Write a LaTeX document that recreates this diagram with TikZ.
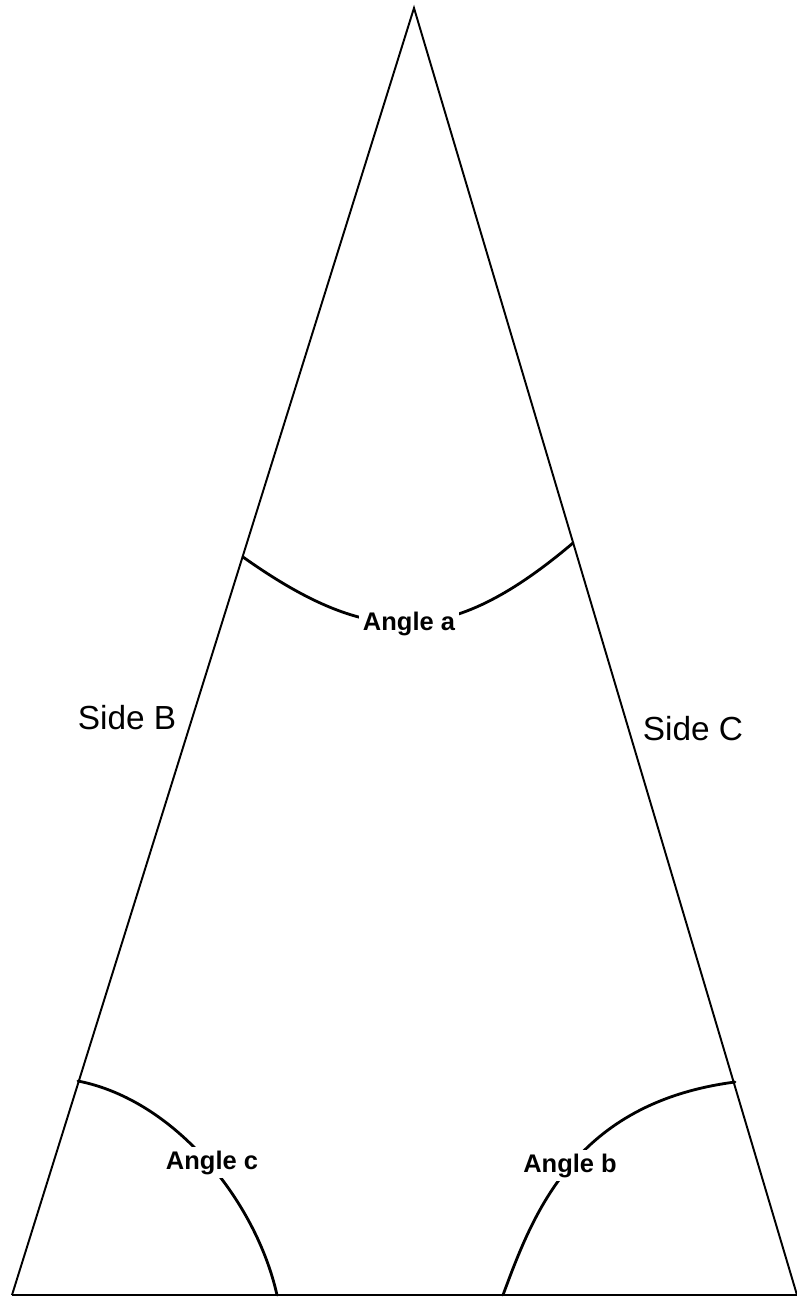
\documentclass[tikz,border=0pt]{standalone}
\usepackage{fontspec}
\newfontfamily\arialfont{Liberation Sans}

\begin{document}
\begin{tikzpicture}[x=0.02cm, y=-0.02cm,
    side/.style={line width=1.1pt},
    anglearc/.style={line width=1.6pt, line cap=round},
    sidelabel/.style={anchor=base, inner sep=0pt, font=\arialfont\fontsize{19}{22}\selectfont},
    anglelabel/.style={anchor=base, fill=white, inner sep=2pt, font=\arialfont\bfseries\fontsize{14.5}{17}\selectfont}]
    \useasboundingbox (0,0) rectangle (796,1303);
    % corners
    \coordinate (apex) at (414,8);
    \coordinate (left) at (12,1295);
    \coordinate (right) at (797,1295);
    \draw[side] (left) -- (apex) -- (right);
    \draw[line width=1.6pt] (left) -- (right);
    % arcs
    \draw[anglearc] (243,557) .. controls (370,647) and (449,648) .. (573,543);
    \draw[anglearc] (78,1081) .. controls (175,1100) and (256,1201) .. (277,1295);
    \draw[anglearc] (503,1295) .. controls (533,1214) and (574,1103) .. (735,1082);
    % labels
    \node[anglelabel] (anglea) at (409,630) {Angle a};
    \node[anglelabel] (anglec) at (212,1169) {Angle c};
    \node[anglelabel] (angleb) at (570,1172) {Angle b};
    \node[sidelabel] (sideb) at (127,729) {Side B};
    \node[sidelabel] (sidec) at (693,740) {Side C};
\end{tikzpicture}
\end{document}
